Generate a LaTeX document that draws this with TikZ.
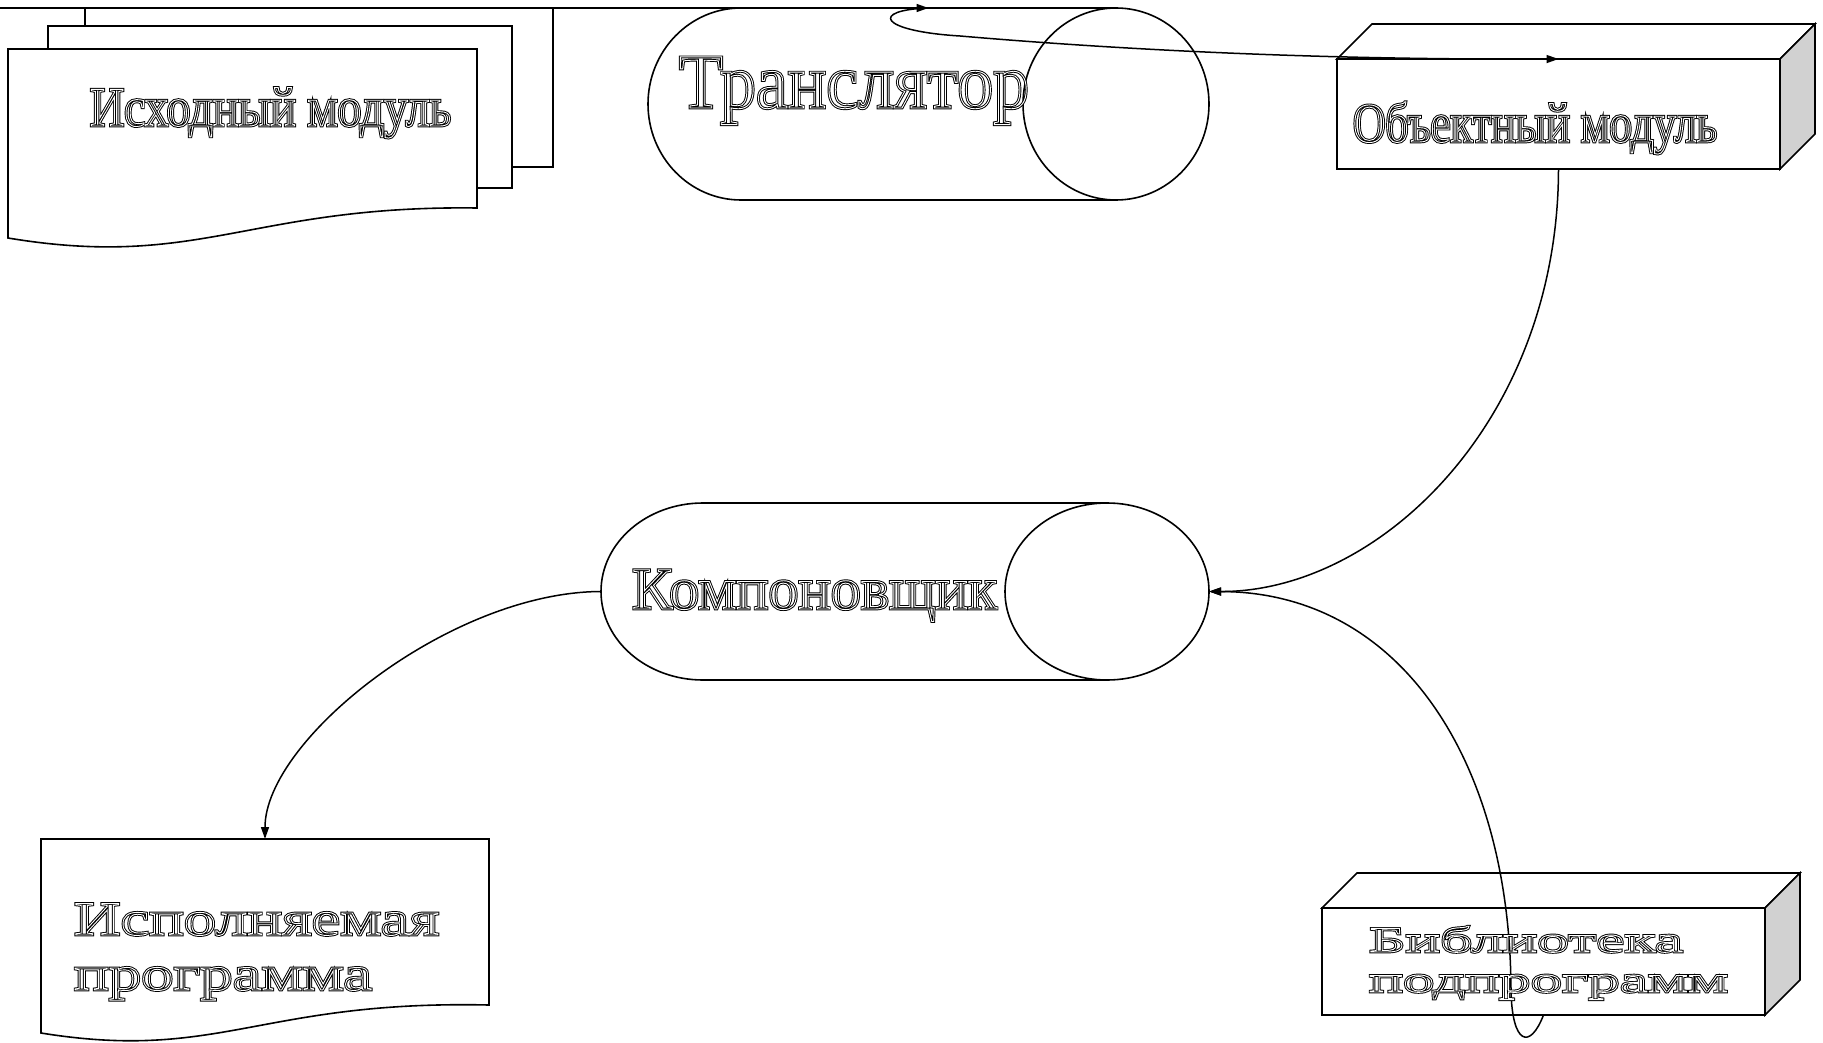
\documentclass[tikz,border=0pt]{standalone}
\usepackage{fontspec}
\setmainfont{Liberation Serif}
\usetikzlibrary{arrows.meta}

\definecolor{sidegray}{gray}{0.82}

% raw PDF operators for hollow (outlined) lettering
\newcommand\pdfcode[1]{\special{pdf:literal direct #1}}
\newcommand\outlined[1]{\leavevmode\rlap{\pdfcode{1 Tr 2.8 w 0 G}#1}\pdfcode{1 Tr 0.9 w 1 G}#1\pdfcode{0 Tr 0 G}}
% #1 font size, #2 target width (pt), #3 text: the face is stretched to the width
\newcommand\fitto[3]{{%
  \fontsize{#1}{#1}\selectfont
  \setbox0\hbox{#3}%
  \pgfmathsetmacro\fitfac{#2/(\the\wd0)}%
  \edef\fitnext{\noexpand\addfontfeatures{FakeStretch=\fitfac}}\fitnext
  \outlined{#3}}}

\begin{document}
\begin{tikzpicture}[x=1pt,y=-1pt,
  shapeline/.style={line width=1.6pt, draw=black, fill=white, line join=miter},
  flow/.style={line width=1.5pt, -{Triangle[length=12pt,width=8pt]}},
  anchorbox/.style={rectangle, inner sep=0pt, outer sep=0pt, draw=none},
  lbl/.style={inner sep=0pt, outer sep=0pt, anchor=base west}]

\fill[white] (0,0) rectangle (1823,1043);
\useasboundingbox (0,0) rectangle (1823,1043);

% stack of source documents
\path[shapeline] (85,8) rectangle (553,167);
\path[shapeline] (48,26) rectangle (512,188);
\path[shapeline] (8,49) -- (477,49) -- (477,208) .. controls (250,205) and (200,270) .. (8,238) -- cycle;

% translator drum
\path[shapeline] (1116,8) -- (741,8) arc[start angle=270, end angle=90, x radius=93, y radius=96] -- (1116,200);
\path[shapeline] (1116,104) ellipse [x radius=93, y radius=96];

% object module block
\path[shapeline] (1337,59) -- (1372,24) -- (1815,24) -- (1780,59) -- cycle;
\path[shapeline, fill=sidegray] (1780,59) -- (1815,24) -- (1815,134) -- (1780,169) -- cycle;
\path[shapeline] (1337,59) rectangle (1780,169);

% linker drum
\path[shapeline] (1107,503) -- (703,503) arc[start angle=270, end angle=90, x radius=102, y radius=88.5] -- (1107,680);
\path[shapeline] (1107,591.5) ellipse [x radius=102, y radius=88.5];

% executable program document
\path[shapeline] (41,839) -- (489,839) -- (489,1005) .. controls (260,1000) and (220,1062) .. (41,1033) -- cycle;

% subroutine library block
\path[shapeline] (1322,908) -- (1357,873) -- (1800,873) -- (1765,908) -- cycle;
\path[shapeline, fill=sidegray] (1765,908) -- (1800,873) -- (1800,980) -- (1765,1015) -- cycle;
\path[shapeline] (1322,908) rectangle (1765,1015);

% named frames of the shapes
\node[anchorbox, minimum width=469pt, minimum height=189pt] (src) at (242.5,143.5) {};
\node[anchorbox, minimum width=561pt, minimum height=192pt] (transl) at (928.5,104) {};
\node[anchorbox, minimum width=443pt, minimum height=110pt] (obj) at (1558.5,114) {};
\node[anchorbox, minimum width=608pt, minimum height=177pt] (linker) at (905,591.5) {};
\node[anchorbox, minimum width=448pt, minimum height=166pt] (exe) at (265,922) {};
\node[anchorbox, minimum width=443pt, minimum height=107pt] (lib) at (1543.5,961.5) {};
\coordinate (feed) at (0,8);

% connectors
\draw[flow] (feed) -- (transl.north);
\draw[flow] (transl.north) .. controls (870,10) and (878,31) .. (960,36)
            .. controls (1100,48) and (1300,60) .. (obj.north);
\draw[flow] (obj.south) .. controls (1558,420) and (1380,592) .. (linker.east);
\draw[flow] (lib.south) .. controls (1530,1050) and (1512,1045) .. (1511,990)
            .. controls (1510,760) and (1400,592) .. (linker.east);
\draw[flow] (linker.west) .. controls (450,592) and (265,740) .. (exe.north);

% labels
\node[lbl] (t-src) at (90,126) {\fitto{56}{361}{Исходный модуль}};
\node[lbl] (t-transl) at (679,108) {\fitto{78}{350}{Транслятор}};
\node[lbl] (t-obj) at (1353,142) {\fitto{56}{364}{Объектный модуль}};
\node[lbl] (t-linker) at (632,609) {\fitto{60}{365}{Компоновщик}};
\node[lbl] (t-exe1) at (74,935) {\fitto{48}{365}{Исполняемая}};
\node[lbl] (t-exe2) at (74,990) {\fitto{48}{298}{программа}};
\node[lbl] (t-lib1) at (1369,952) {\fitto{36}{314}{Библиотека}};
\node[lbl] (t-lib2) at (1369,992) {\fitto{36}{359}{подпрограмм}};

\end{tikzpicture}
\end{document}
